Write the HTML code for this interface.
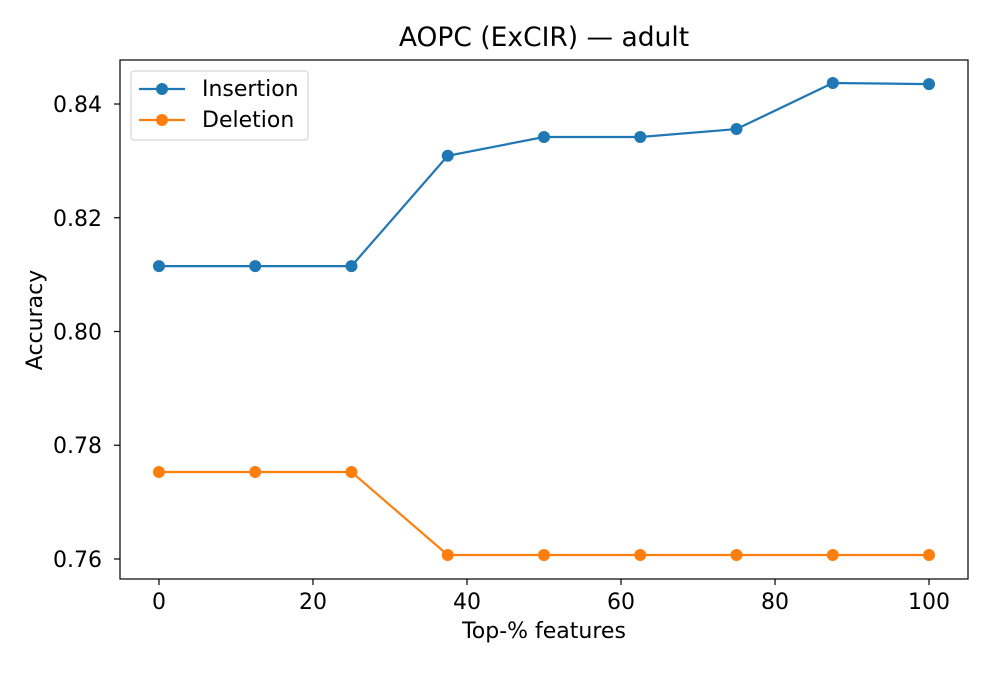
<!DOCTYPE html>
<html><head><meta charset="utf-8"><style>
html,body{margin:0;padding:0;background:#fff;}
svg text{font-family:"DejaVu Sans","Liberation Sans",sans-serif;fill:#000;}
</style></head><body>
<svg id="chart" width="992" height="672" viewBox="0 0 992 672" xmlns="http://www.w3.org/2000/svg">
<rect width="992" height="672" fill="#fff"/>
<text x="544" y="46" font-size="26.5" text-anchor="middle">AOPC (ExCIR) — adult</text>
<g id="axes"></g>
<g id="series"></g>
<rect x="120" y="60" width="848" height="519" fill="none" stroke="#000" stroke-width="1.2"/>
<text x="544" y="638" font-size="22" text-anchor="middle">Top-% features</text>
<text x="0" y="0" font-size="22" text-anchor="middle" transform="translate(42,320) rotate(-90)">Accuracy</text>
<g>
<rect x="131" y="71" width="177" height="69" rx="3" fill="#fff" stroke="#ccc" stroke-width="1"/>
<g>
<line x1="139" y1="89" x2="185" y2="89" stroke="#1f77b4" stroke-width="2.2"/>
<circle cx="162" cy="89" r="6" fill="#1f77b4"/>
<text x="202" y="96" font-size="22">Insertion</text></g>
<g>
<line x1="139" y1="120" x2="185" y2="120" stroke="#ff7f0e" stroke-width="2.2"/>
<circle cx="162" cy="120" r="6" fill="#ff7f0e"/>
<text x="202" y="127" font-size="22">Deletion</text></g>
</g>
</svg>
<script>
const xValues = [0, 12.5, 25, 37.5, 50, 62.5, 75, 87.5, 100];
const insertion = [0.8115, 0.8115, 0.8115, 0.8309, 0.8342, 0.8342, 0.8356, 0.8437, 0.8435];
const deletion = [0.7753, 0.7753, 0.7753, 0.7607, 0.7607, 0.7607, 0.7607, 0.7607, 0.7607];
const xTicks = [0, 20, 40, 60, 80, 100];
const yTicks = [0.76, 0.78, 0.80, 0.82, 0.84];
const yTickLabels = ["0.76", "0.78", "0.80", "0.82", "0.84"];

const L=120,R=968,T=60,B=579;
const xMin=-5.06,xMax=105.06,yMin=0.75648,yMax=0.84774;
function sx(v){return L+(v-xMin)/(xMax-xMin)*(R-L);}
function sy(v){return B-(v-yMin)/(yMax-yMin)*(B-T);}
const NS="http://www.w3.org/2000/svg";
const axes=document.getElementById('axes');
const ser=document.getElementById('series');
function mk(tag,attrs,parent){const e=document.createElementNS(NS,tag);for(const k in attrs)e.setAttribute(k,attrs[k]);parent.appendChild(e);return e;}
xTicks.forEach(t=>{
  const x=sx(t);
  const l=mk('line',{x1:x,y1:B,x2:x,y2:B+6,stroke:'#000','stroke-width':1.2},axes);
  
  
  const tx=mk('text',{x:x,y:609,'font-size':22,'text-anchor':'middle'},axes);
  tx.textContent=String(t);
  
  
});
yTicks.forEach((t,i)=>{
  const y=sy(t);
  const l=mk('line',{x1:L-6,y1:y,x2:L,y2:y,stroke:'#000','stroke-width':1.2},axes);
  
  
  const tx=mk('text',{x:102,y:y+8,'font-size':22,'text-anchor':'end'},axes);
  tx.textContent=yTickLabels[i];
  
  
});
function drawSeries(vals,color,name){
  const pts=vals.map((v,i)=>sx(xValues[i])+','+sy(v)).join(' ');
  const pl=mk('polyline',{points:pts,fill:'none',stroke:color,'stroke-width':2.2},ser);
  
  
  vals.forEach((v,i)=>{
    const c=mk('circle',{cx:sx(xValues[i]),cy:sy(v),r:6,fill:color},ser);
    
    
  });
}
drawSeries(insertion,'#1f77b4','insertion');
drawSeries(deletion,'#ff7f0e','deletion');
</script>
</body></html>
